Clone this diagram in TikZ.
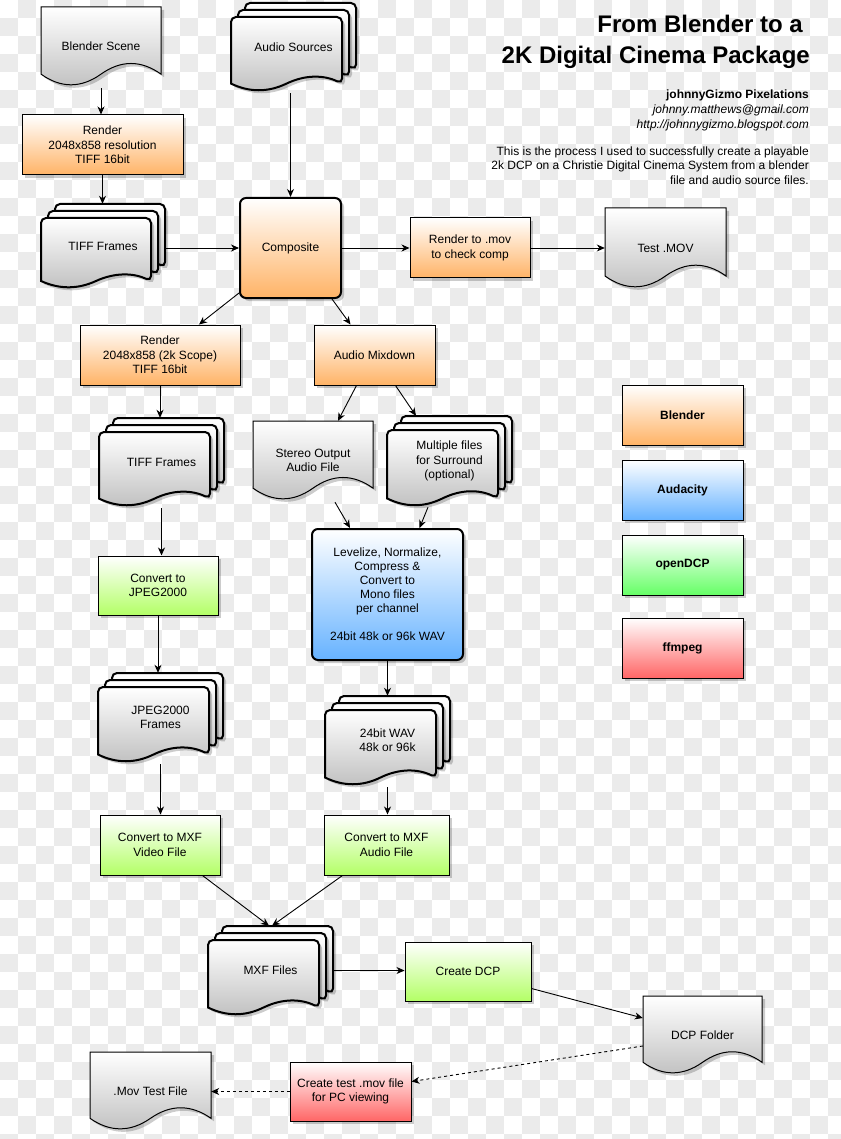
\documentclass[tikz,border=0pt]{standalone}
\usepackage{fontspec}
\setmainfont{Liberation Sans}
\usetikzlibrary{arrows.meta,shadows,calc}
\definecolor{chk}{RGB}{235,235,235}
\definecolor{orC}{RGB}{255,179,102}
\definecolor{blC}{RGB}{102,178,255}
\definecolor{limeC}{RGB}{179,255,102}
\definecolor{grC}{RGB}{102,255,102}
\definecolor{rdC}{RGB}{255,102,102}
\definecolor{docC}{RGB}{192,192,192}
\tikzset{
 txt/.style={font=\fontsize{12}{14.4}\selectfont, align=center, text=black},
 shd/.style={drop shadow={shadow xshift=3pt, shadow yshift=-3pt, fill=black, opacity=0.2}},
 box/.style={txt, rectangle, draw=black, line width=1pt, top color=white, bottom color=#1, shd, inner sep=2pt},
 rbox/.style={box=#1, rounded corners=6pt, line width=2pt},
 legend/.style={box=#1, minimum width=121, minimum height=60, font=\fontsize{12}{14.4}\selectfont\bfseries},
 docline/.style={draw=black, line width=#1, top color=white, bottom color=docC, shd},
 conn/.style={draw=black, line width=0.9pt, -{Stealth[length=8pt, width=7pt, inset=2.5pt]}},
 dconn/.style={conn, dash pattern=on 3pt off 3pt},
 ttl/.style={anchor=base east, inner sep=0, font=\fontsize{24}{28}\selectfont\bfseries},
 info/.style={anchor=base east, inner sep=0, font=\fontsize{12}{14.4}\selectfont},
}
% single document: name, x, y, w, h, size, text
\newcommand\docshape[7]{%
 \pgfmathsetmacro\dR{#2+#4}%
 \pgfmathsetmacro\dB{#3+#5-#6*#5/2}%
 \pgfmathsetmacro\dU{\dB-0.6*#6*#5}%
 \pgfmathsetmacro\dD{\dB+0.6*#6*#5}%
 \pgfmathsetmacro\xa{#2+#4*5/6}%
 \pgfmathsetmacro\xb{#2+#4*2/3}%
 \pgfmathsetmacro\xc{#2+#4/2}%
 \pgfmathsetmacro\xd{#2+#4/3}%
 \pgfmathsetmacro\xe{#2+#4/6}%
 \pgfmathsetmacro\yc{#3+#5/2}%
 \path[docline=1pt] (#2,\dB) -- (#2,#3) -- (\dR,#3) -- (\dR,\dB) .. controls (\xa,\dU) and (\xb,\dU) .. (\xc,\dB) .. controls (\xd,\dD) and (\xe,\dD) .. (#2,\dB) -- cycle;
 \node[txt, minimum width=#4, minimum height=#5, inner sep=0] (#1) at (\xc,\yc) {#7};
}
% one page of a multi document: x, y, w, h, size
\newcommand\pageshape[5]{%
 \pgfmathsetmacro\pX{#1}%
 \pgfmathsetmacro\pY{#2}%
 \pgfmathsetmacro\dR{#1+#3}%
 \pgfmathsetmacro\dB{#2+#4-#5*#4/2}%
 \pgfmathsetmacro\dU{\dB-0.6*#5*#4}%
 \pgfmathsetmacro\dD{\dB+0.6*#5*#4}%
 \pgfmathsetmacro\xa{#1+#3*5/6}%
 \pgfmathsetmacro\xb{#1+#3*2/3}%
 \pgfmathsetmacro\xc{#1+#3/2}%
 \pgfmathsetmacro\xd{#1+#3/3}%
 \pgfmathsetmacro\xe{#1+#3/6}%
 \path[docline=2pt] (\pX,\dB) [rounded corners=5pt] -- (\pX,\pY) -- (\dR,\pY) -- (\dR,\dB) [sharp corners] .. controls (\xa,\dU) and (\xb,\dU) .. (\xc,\dB) .. controls (\xd,\dD) and (\xe,\dD) .. (\pX,\dB) -- cycle;
}
% multi document: name, x, y (front page), w, h, text
\newcommand\multidoc[6]{%
 \pageshape{#2+14}{#3-14}{#4}{#5}{0.2}%
 \pageshape{#2+7}{#3-7}{#4}{#5}{0.2}%
 \pageshape{#2}{#3}{#4}{#5}{0.2}%
 \pgfmathsetmacro\mX{#2+(#4+14)/2}%
 \pgfmathsetmacro\mY{#3-14+(#5+14)/2}%
 \node[txt, minimum width=#4+14, minimum height=#5+14, inner sep=0] (#1) at (\mX,\mY) {#6};
}
\begin{document}
\begin{tikzpicture}[x=1pt,y=-1pt]
\useasboundingbox (0,0) rectangle (840,1139);
% transparency checkerboard
\fill[white] (0,0) rectangle (840,1139);
\foreach \j in {0,...,63}{
  \pgfmathtruncatemacro\st{mod(\j+1,2)}
  \foreach \k in {0,...,23}{
    \fill[chk] ({(2*\k+\st)*18},{\j*18}) rectangle ++(18,18);
  }
}
% title block
\node[ttl] (t1) at (803,33) {From Blender to a};
\node[ttl] (t2) at (810,64) {2K Digital Cinema Package};
\node[info, font=\fontsize{12}{14.4}\selectfont\bfseries] (au) at (809,99) {johnnyGizmo Pixelations};
\node[info, font=\fontsize{12}{14.4}\selectfont\itshape] (em) at (809,114) {johnny.matthews@gmail.com};
\node[info, font=\fontsize{12}{14.4}\selectfont\itshape] (url) at (809,129) {http://johnnygizmo.blogspot.com};
\node[info] (p1) at (809,156) {This is the process I used to successfully create a playable};
\node[info] (p2) at (809,170) {2k DCP on a Christie Digital Cinema System from a blender};
\node[info] (p3) at (809,185) {file and audio source files.};
% nodes
\docshape{bs}{41}{7}{120}{79}{0.3}{Blender Scene}
\node[box=orC, minimum width=161, minimum height=60] (r1) at (102.5,145) {Render\\2048x858 resolution\\TIFF 16bit};
\multidoc{tf1}{41}{218}{110}{70}{TIFF Frames}
\multidoc{as}{231}{17}{111}{74}{Audio Sources}
\node[rbox=orC, minimum width=101, minimum height=100] (comp) at (290.5,248) {Composite};
\node[box=orC, minimum width=120, minimum height=60] (rmov) at (470,248) {Render to .mov\\to check comp};
\docshape{tmov}{605}{208}{121}{80}{0.3}{Test .MOV}
\node[box=orC, minimum width=160, minimum height=60] (r2) at (160,355) {Render\\2048x858 (2k Scope)\\TIFF 16bit};
\node[box=orC, minimum width=121, minimum height=60] (mix) at (374.5,355) {Audio Mixdown};
\multidoc{tf2}{99}{432}{111}{74}{TIFF Frames}
\docshape{st}{253}{421}{120}{79}{0.3}{Stereo Output\\Audio File}
\multidoc{mf}{387}{430}{111}{76}{Multiple files\\for Surround\\(optional)}
\node[rbox=blC, minimum width=151, minimum height=131, font=\fontsize{12}{14}\selectfont] (lev) at (387.5,594.5) {Levelize, Normalize,\\Compress \&\\Convert to\\Mono files\\per channel\\[14pt]24bit 48k or 96k WAV};
\node[box=limeC, minimum width=120, minimum height=59] (cj) at (158,585.5) {Convert to\\JPEG2000};
\multidoc{jf}{98}{687}{111}{75}{JPEG2000\\Frames}
\multidoc{wav}{325}{710}{111}{75}{24bit WAV\\48k or 96k}
\node[box=limeC, minimum width=120, minimum height=60] (mv) at (160,845) {Convert to MXF\\Video File};
\node[box=limeC, minimum width=125, minimum height=60] (ma) at (386.5,845) {Convert to MXF\\Audio File};
\multidoc{mxf}{208}{940}{111}{75}{MXF Files}
\node[box=limeC, minimum width=126, minimum height=59] (cdcp) at (468,971.5) {Create DCP};
\docshape{dcpf}{643}{996}{119}{78}{0.3}{DCP Folder}
\node[box=rdC, minimum width=121, minimum height=59] (ctm) at (350.5,1091.5) {Create test .mov file\\for PC viewing};
\docshape{mtf}{90}{1052}{121}{78}{0.3}{.Mov Test File}
% legend
\node[legend=orC] (lg1) at (682.5,415) {Blender};
\node[legend=blC] (lg2) at (682.5,490) {Audacity};
\node[legend=grC] (lg3) at (682.5,565) {openDCP};
\node[legend=rdC] (lg4) at (682.5,648) {ffmpeg};
% connectors
\draw[conn, shorten <=2pt] (bs.south) -- (bs.south |- r1.north);
\draw[conn] (r1.south) -- (r1.south |- tf1.north);
\draw[conn, shorten <=2pt] (as.south -| comp.north) -- (comp.north);
\draw[conn] (comp.west -| tf1.east) -- (comp.west);
\draw[conn] (comp.east) -- (rmov.west);
\draw[conn] (rmov.east) -- (rmov.east -| tmov.west);
\draw[conn] ([yshift=6pt]comp.south west) -- ([xshift=39pt]r2.north);
\draw[conn] ([xshift=-10pt]comp.south east) -- ([xshift=-24pt]mix.north);
\draw[conn] (r2.south) -- (r2.south |- tf2.north);
\draw[conn] ([xshift=-18pt]mix.south) -- ([xshift=25pt]st.north);
\draw[conn] ([xshift=21pt]mix.south) -- ([xshift=-33.5pt]mf.north);
\draw[conn] ([xshift=22pt,yshift=-2pt]st.south) -- ([xshift=-37.5pt]lev.north);
\draw[conn] ([xshift=-21.5pt,yshift=-1pt]mf.south) -- ([xshift=32pt]lev.north);
\draw[conn, shorten <=2pt] (tf2.south) -- (tf2.south |- cj.north);
\draw[conn] (cj.south) -- (cj.south |- jf.north);
\draw[conn] (lev.south) -- (lev.south |- wav.north);
\draw[conn, shorten <=2pt] (jf.south) -- (jf.south |- mv.north);
\draw[conn, shorten <=2pt] (wav.south) -- (wav.south |- ma.north);
\draw[conn] ([xshift=-18pt]mv.south east) -- ([xshift=-1.5pt]mxf.north);
\draw[conn] ([xshift=19pt]ma.south west) -- ([xshift=1.5pt]mxf.north);
\draw[conn] (mxf.east) -- (mxf.east -| cdcp.west);
\draw[conn] ([yshift=-17pt]cdcp.east) -- ([yshift=17pt]dcpf.west);
\draw[dconn] ([yshift=-11pt]dcpf.west) -- ([yshift=10pt]ctm.east);
\draw[dconn] (ctm.west) -- (ctm.west -| mtf.east);
\end{tikzpicture}
\end{document}
